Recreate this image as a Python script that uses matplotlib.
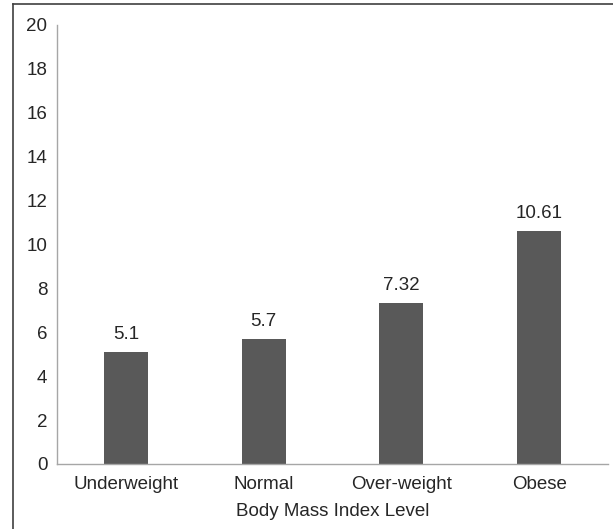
import matplotlib.pyplot as plt
from matplotlib.lines import Line2D

plt.rcParams['font.family'] = ['Liberation Sans', 'DejaVu Sans']

categories = ["Underweight", "Normal", "Over-weight", "Obese"]
values = [5.1, 5.7, 7.32, 10.61]
value_labels = ["5.1", "5.7", "7.32", "10.61"]

fig = plt.figure(figsize=(6.13, 5.29), dpi=100)
ax = fig.add_axes([0.093, 0.123, 0.899, 0.83])

x = range(len(categories))
bars = ax.bar(x, values, width=0.32, color="#595959")
for b, lab in zip(bars, value_labels):
    ax.text(b.get_x() + b.get_width() / 2, b.get_height() + 0.4, lab,
            ha="center", va="bottom", fontsize=13.5, color="#262626")

ax.set_xlim(-0.5, len(categories) - 0.5)
ax.set_ylim(0, 20)
ax.set_yticks(range(0, 21, 2))
ax.set_xticks(list(x))
ax.set_xticklabels(categories)
ax.tick_params(axis="both", length=0, labelsize=13.5, colors="#262626")
ax.tick_params(axis="y", pad=7)
ax.tick_params(axis="x", pad=9)
ax.set_xlabel("Body Mass Index Level", fontsize=13.5, color="#262626", labelpad=7)

for s in ["top", "right"]:
    ax.spines[s].set_visible(False)
for s in ["left", "bottom"]:
    ax.spines[s].set_color("#a6a6a6")
    ax.spines[s].set_linewidth(1.0)

# outer frame (only left and top edges visible in the crop)
fig.add_artist(Line2D([0.022, 0.022], [0, 0.992], color="#404040", lw=1.2))
fig.add_artist(Line2D([0.022, 1.0], [0.992, 0.992], color="#404040", lw=1.2))

fig.savefig("out.png", dpi=100)
